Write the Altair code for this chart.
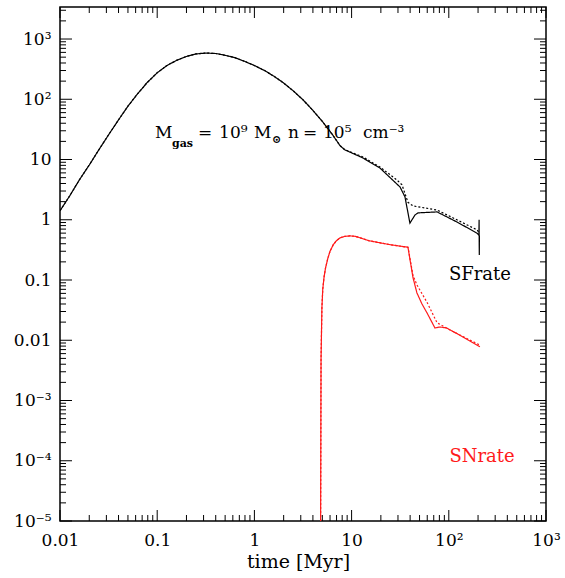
import altair as alt
import pandas as pd

# ---------------- data ----------------
# SFrate, solid black
sf_t = [0.01, 0.0126, 0.0158, 0.02, 0.0251, 0.0316, 0.0398, 0.05, 0.063, 0.079, 0.1, 0.126,
        0.158, 0.2, 0.25, 0.316, 0.4, 0.5, 0.63, 0.79, 1.0, 1.26, 1.58, 2.0, 2.51, 3.16,
        3.98, 5.01, 6.31, 7.6, 8.5, 13.1, 19.6, 31.5, 35.4, 39.8, 44.9, 48.2, 75.7, 121,
        195, 204, 205, 205.5, 206, 206.5]
sf_v = [1.41, 2.5, 4.57, 8.1, 14.5, 25.7, 45, 76.7, 124, 190, 275, 363,
        442, 513, 565, 585, 575, 537, 490, 427, 363, 302, 243, 186, 138, 98,
        66, 42.7, 26.3, 17, 14.5, 10.6, 7.2, 3.5, 2.4, 0.88, 1.2, 1.3, 1.35, 0.92,
        0.6, 0.55, 1.0, 0.4, 0.26, 0.55]
# SFrate, dotted black
sfd_t = [0.01, 0.0126, 0.0158, 0.02, 0.0251, 0.0316, 0.0398, 0.05, 0.063, 0.079, 0.1, 0.126,
         0.158, 0.2, 0.25, 0.316, 0.4, 0.5, 0.63, 0.79, 1.0, 1.26, 1.58, 2.0, 2.51, 3.16,
         3.98, 5.01, 6.31, 7.6, 8.5, 13.1, 19.6, 29.3, 33, 38, 42.8, 75.7, 121, 195, 204]
sfd_v = [1.41, 2.5, 4.57, 8.1, 14.5, 25.7, 45, 76.7, 124, 190, 275, 363,
         442, 513, 565, 585, 575, 537, 490, 427, 363, 302, 243, 186, 138, 98,
         66, 42.7, 26.3, 17, 14.6, 11.0, 7.5, 4.57, 3.8, 1.95, 1.7, 1.45, 1.0, 0.68, 0.62]
# SNrate, solid red
sn_t = [4.80, 4.85, 4.95, 5.05, 5.2, 5.4, 5.7, 6.0, 6.5, 7.0, 7.6, 8.5, 9.6, 11, 15, 25,
        38, 42.8, 47, 53, 60, 72, 81, 95, 130, 209]
sn_v = [1e-5, 0.005, 0.035, 0.07, 0.11, 0.16, 0.23, 0.30, 0.39, 0.45, 0.50, 0.53, 0.54,
        0.53, 0.45, 0.385, 0.35, 0.11, 0.061, 0.04, 0.028, 0.016, 0.0166, 0.016, 0.0121,
        0.0078]
# SNrate, dotted red
snd_t = [4.80, 4.85, 4.95, 5.05, 5.2, 5.4, 5.7, 6.0, 6.5, 7.0, 7.6, 8.5, 9.6, 11, 15, 25,
         38, 42.8, 47, 60, 75.7, 103, 209]
snd_v = [1e-5, 0.005, 0.035, 0.07, 0.11, 0.16, 0.23, 0.30, 0.39, 0.45, 0.50, 0.53, 0.54,
         0.53, 0.45, 0.385, 0.35, 0.12, 0.083, 0.042, 0.0195, 0.0148, 0.0083]

# axis ticks / labels
x_exps = [-2, -1, 0, 1, 2, 3]
x_labels = ["0.01", "0.1", "1", "10", "10²", "10³"]
y_exps = [-5, -4, -3, -2, -1, 0, 1, 2, 3]
y_labels = ["10⁻⁵", "10⁻⁴", "10⁻³", "0.01", "0.1", "1", "10", "10²", "10³"]
X_MIN, X_MAX = 0.01, 1000
Y_MIN, Y_MAX = 1e-5, 3400

# annotation pieces
ann_text = ["M", "=", "10⁹", "M", "n", "=", "10⁵", "cm⁻³"]
ann_t = [0.0949, 0.263, 0.433, 0.991, 2.217, 3.16, 5.08, 13.1]
ann_v = [22.8] * 8
sub_text = ["gas", "⊙"]
sub_t = [0.142, 1.517]
sub_v = [16.1, 18.8]
lab_text = ["SFrate", "SNrate"]
lab_t = [209, 220]
lab_v = [0.1, 9.6e-5]
lab_col = ["black", "#ff1a1a"]

# ---------------- chart ----------------
W, H = 486, 514
FONT = "DejaVu Serif"
xs = alt.Scale(type="log", domain=[X_MIN, X_MAX], nice=False)
ys = alt.Scale(type="log", domain=[Y_MIN, Y_MAX], nice=False)


def label_expr(exps, labels):
    parts = [f"round(log(datum.value)/LN10) == {e} ? '{l}'" for e, l in zip(exps, labels)]
    return " : ".join(parts) + " : ''"


x_major = [10.0 ** e for e in x_exps]
y_major = [10.0 ** e for e in y_exps]
x_minor = [k * 10.0 ** e for e in x_exps[:-1] for k in range(2, 10)]
y_minor = [k * 10.0 ** e for e in y_exps for k in range(2, 10) if k * 10.0 ** e <= Y_MAX]

xaxis = alt.Axis(values=x_major, labelExpr=label_expr(x_exps, x_labels), ticks=False,
                 tickSize=0, domain=False, grid=False, labelFont=FONT, labelFontSize=17,
                 labelPadding=11, labelColor="black", title="time [Myr]", titleFont=FONT,
                 titleFontSize=19, titleFontWeight="normal", titleColor="black",
                 titlePadding=4, titleX=W / 2 - 5, labelFlush=False)
yaxis = alt.Axis(values=y_major, labelExpr=label_expr(y_exps, y_labels), ticks=False,
                 tickSize=0, domain=False, grid=False, labelFont=FONT, labelFontSize=17,
                 labelPadding=9, labelColor="black", title=None, labelFlush=False)

X = lambda: alt.X("t:Q", scale=xs, axis=xaxis)
Y = lambda: alt.Y("v:Q", scale=ys, axis=yaxis)


def curve(t, v, color, dash):
    df = pd.DataFrame({"t": t, "v": v})
    m = alt.Chart(df).mark_line(color=color, strokeWidth=1.2, clip=True,
                                strokeDash=dash if dash else [1, 0])
    return m.encode(x=X(), y=Y(), order="t:Q")


layers = [
    curve(sf_t, sf_v, "black", None),
    curve(sfd_t, sfd_v, "black", [2, 2]),
    curve(sn_t, sn_v, "#ff1a1a", None),
    curve(snd_t, snd_v, "#ff1a1a", [2, 2]),
]


def xticks(vals, length):
    df = pd.DataFrame({"t": vals})
    bot = alt.Chart(df).mark_rule(color="black", strokeWidth=1).encode(
        x=X(), y=alt.value(H), y2=alt.value(H - length))
    top = alt.Chart(df).mark_rule(color="black", strokeWidth=1).encode(
        x=X(), y=alt.value(0), y2=alt.value(length))
    return [bot, top]


def yticks(vals, length):
    df = pd.DataFrame({"v": vals})
    left = alt.Chart(df).mark_rule(color="black", strokeWidth=1).encode(
        y=Y(), x=alt.value(0), x2=alt.value(length))
    right = alt.Chart(df).mark_rule(color="black", strokeWidth=1).encode(
        y=Y(), x=alt.value(W), x2=alt.value(W - length))
    return [left, right]


layers += xticks(x_major, 11) + xticks(x_minor, 6) + yticks(y_major, 12) + yticks(y_minor, 6)

ann_df = pd.DataFrame({"t": ann_t, "v": ann_v, "txt": ann_text})
layers.append(alt.Chart(ann_df).mark_text(font=FONT, fontSize=17, align="left",
                                          baseline="alphabetic", color="black").encode(
    x=X(), y=Y(), text="txt:N"))
sub_df = pd.DataFrame({"t": sub_t, "v": sub_v, "txt": sub_text})
layers.append(alt.Chart(sub_df).mark_text(font=FONT, fontSize=11, fontWeight="bold",
                                          align="left", baseline="alphabetic",
                                          color="black").encode(
    x=X(), y=Y(), text="txt:N"))
lab_df = pd.DataFrame({"t": lab_t, "v": lab_v, "txt": lab_text, "col": lab_col})
layers.append(alt.Chart(lab_df).mark_text(font=FONT, fontSize=18, align="center",
                                          baseline="alphabetic").encode(
    x=X(), y=Y(), text="txt:N", color=alt.Color("col:N", scale=None)))

chart = alt.layer(*layers).properties(
    width=W, height=H,
    autosize=alt.AutoSizeParams(type="none"),
    padding={"left": 60, "top": 7, "right": 19, "bottom": 57},
    background="white",
).configure_view(stroke="black", strokeWidth=1.5)

chart.save("out.html", embed_options={"renderer": "svg", "actions": False})
